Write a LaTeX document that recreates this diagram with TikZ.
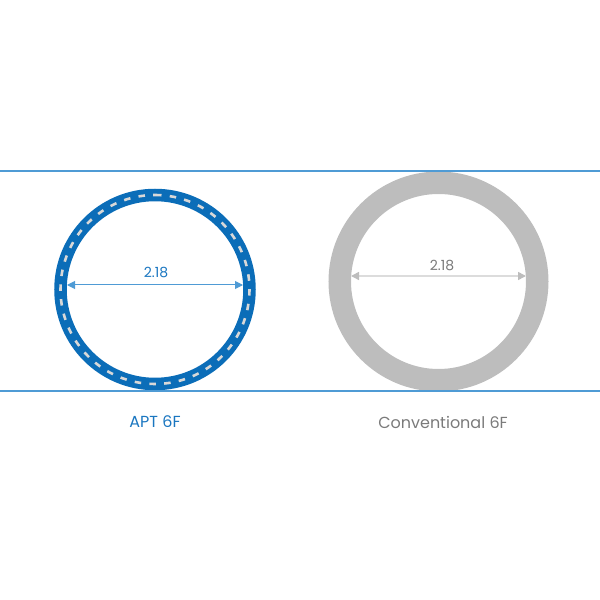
\documentclass[tikz,border=0pt]{standalone}
\usepackage{fontspec}
\setmainfont{Poppins}
\usetikzlibrary{arrows.meta}
\definecolor{ringblue}{HTML}{0B6DB8}
\definecolor{lineblue}{HTML}{4F9BD5}
\definecolor{textblue}{HTML}{1A76C0}
\definecolor{ringgray}{HTML}{BDBDBD}
\definecolor{arrgray}{HTML}{DCDCDC}
\definecolor{textgray}{HTML}{7A7A7A}
\definecolor{dashgray}{HTML}{D8D8D8}
\tikzset{
  rule/.style={draw=lineblue, line width=1.5pt},
  lbl/.style={font=\fontsize{16}{18}\selectfont, inner sep=0pt},
  dimlbl/.style={font=\fontsize{14}{16}\selectfont, inner sep=0pt},
  gtip/.tip={Triangle[length=8pt,width=8pt,color=ringgray,fill=ringgray]},
  btip/.tip={Triangle[length=8pt,width=8pt]},
}
\begin{document}
\begin{tikzpicture}[x=1pt,y=1pt]
\useasboundingbox (0,0) rectangle (600,600);
% horizontal rules
\coordinate (tl) at (0,429);
\coordinate (tr) at (600,429);
\coordinate (bl) at (0,209);
\coordinate (br) at (600,209);
% left ring
\coordinate (c1) at (155,310.5);
\draw[ringblue, line width=12.5pt] (c1) circle (94.5);
\draw[dashgray, line width=2.6pt, dash pattern=on 6.5pt off 8.3pt] ([shift={(90:94.5)}]c1) arc (90:-270:94.5);
% right ring
\coordinate (c2) at (438.5,318.5);
\draw[ringgray, line width=22.5pt] (c2) circle (98.75);
\draw[rule] (tl) -- (tr);
\draw[rule] (bl) -- (br);
% dimension left
\coordinate (a1) at (67,315);
\coordinate (a2) at (243,315);
\draw[lineblue, line width=1pt, btip-btip] (a1) -- (a2);
\node[dimlbl, text=textblue] (d1) at (156,328) {2.18};
% dimension right
\coordinate (b1) at (351,324);
\coordinate (b2) at (526,324);
\draw[arrgray, line width=1.5pt, gtip-gtip] (b1) -- (b2);
\node[dimlbl, text=textgray] (d2) at (442,335) {2.18};
% labels
\node[lbl, text=textblue] (l1) at (155,178) {APT 6F};
\node[lbl, text=textgray] (l2) at (443,178) {Conventional 6F};
\end{tikzpicture}
\end{document}
